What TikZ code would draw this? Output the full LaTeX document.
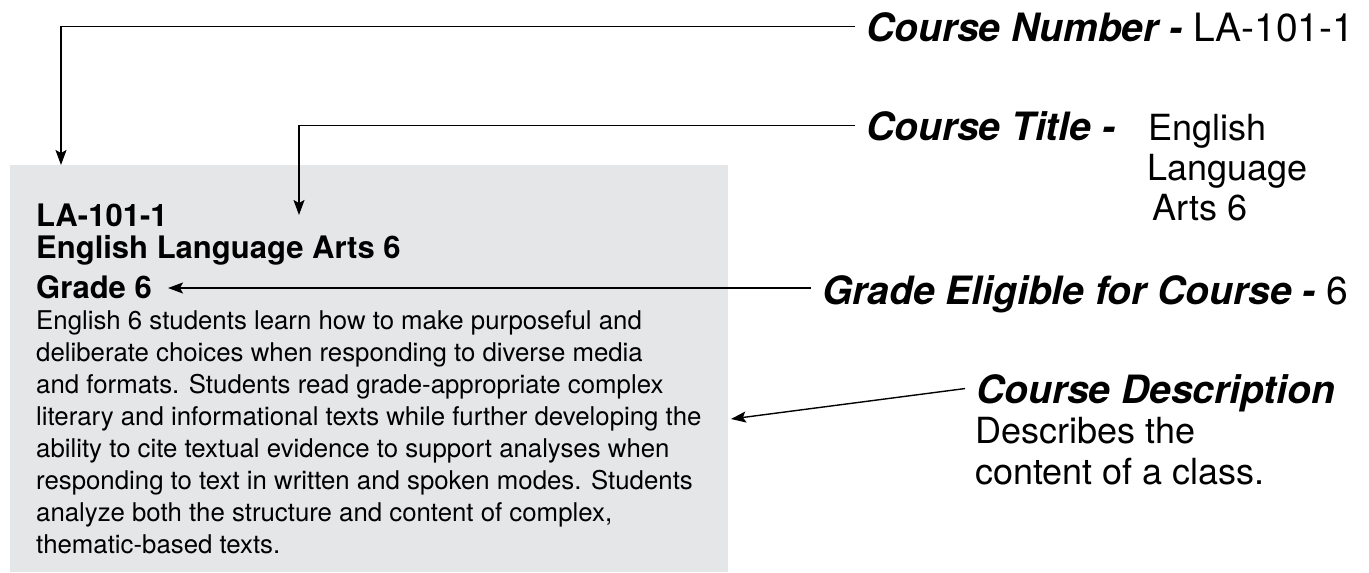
\documentclass[tikz,border=0pt]{standalone}
\usepackage{fontspec}
\setmainfont{TeX Gyre Heros}
\usetikzlibrary{arrows.meta}
\definecolor{boxgray}{RGB}{229,230,232}
\begin{document}
\begin{tikzpicture}[x=1pt,y=-1pt,
  conn/.style={line width=1.4pt,-{Stealth[length=15pt,width=11pt,inset=3pt]}},
  lbl/.style={inner ysep=0pt,inner xsep=11pt,text depth=0pt,anchor=base west,font=\fontsize{39}{44}\selectfont},
  val/.style={inner sep=0pt,anchor=base west,font=\fontsize{36}{44}\selectfont},
  head/.style={inner sep=0pt,anchor=base west,font=\bfseries\fontsize{31}{36}\selectfont},
  body/.style={inner sep=0pt,anchor=base west,font=\fontsize{25.8}{30}\selectfont}]
\useasboundingbox (0,0) rectangle (1369,573);
\node[fill=boxgray,minimum width=718pt,minimum height=407pt,inner sep=0pt,anchor=north west] (box) at (10,165) {};
% box texts
\node[head] (num2) at (36,226) {LA-101-1};
\node[head] (ttl2) at (36,258) {English Language Arts 6};
\node[head] (grd) at (36,298) {Grade 6};
\foreach \t [count=\i] in {English 6 students learn how to make purposeful and,
  deliberate choices when responding to diverse media,
  and formats. Students read grade-appropriate complex,
  literary and informational texts while further developing the,
  ability to cite textual evidence to support analyses when,
  responding to text in written and spoken modes. Students,
  {analyze both the structure and content of complex,},
  thematic-based texts.}
  \node[body] (d\i) at (36,{329+(\i-1)*32.1}) {\t};
% right labels
\node[lbl] (num) at (855,41) {\textbf{\textit{Course Number -}} LA-101-1};
\node[lbl] (ttl) at (855,140) {\textbf{\textit{Course Title -}}};
\node[val] (ttlv) at (1148,140) {English};
\node[val] (ttlv2) at (1147,180) {Language};
\node[val] (ttlv3) at (1152,220) {Arts 6};
\node[lbl] (gel) at (811,304) {\textbf{\textit{Grade Eligible for Course -}} 6};
\node[lbl] (desc) at (965,403) {\textbf{\textit{Course Description}}};
\node[val] (desc2) at (975,443) {Describes the};
\node[val] (desc3) at (975,484) {content of a class.};
% connector ends
\coordinate (t1) at (61,165);
\coordinate (t2) at (299,215);
\coordinate (t3) at (168,288);
\coordinate (t4) at (731,419);
\draw[conn] (num.west) -| (t1);
\draw[conn] (ttl.west) -| (t2);
\draw[conn] (gel.west |- t3) -- (t3);
\draw[conn] (desc.west) -- (t4);
\end{tikzpicture}
\end{document}
